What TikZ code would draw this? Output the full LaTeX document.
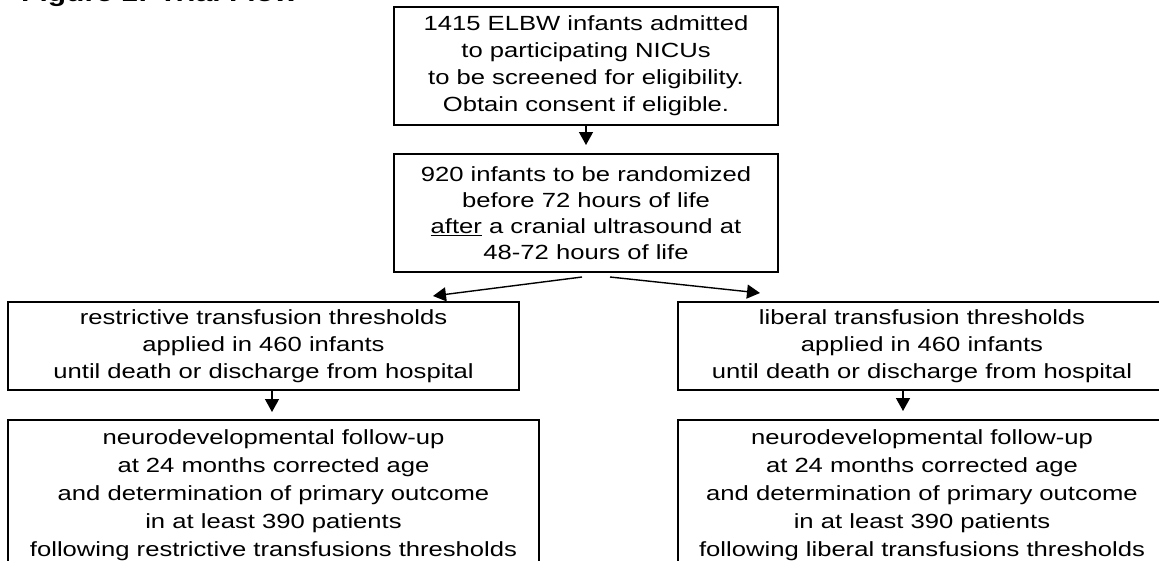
\documentclass[tikz,border=0pt]{standalone}
\usepackage{fontspec}
\setmainfont{Liberation Sans}[FakeStretch=1.25]
\usetikzlibrary{arrows.meta}
\begin{document}
\begin{tikzpicture}[
  box/.style={draw=black, line width=2pt, inner sep=0pt, align=center, text=black,
              font=\fontsize{20.5}{27}\selectfont},
  arr/.style={line width=1.4pt, -{Triangle[width=14pt,length=13pt]}},
]
\useasboundingbox (0,0) rectangle (1159pt,-560pt);
\clip (0,0) rectangle (1159pt,-560pt);
\node[anchor=base west, inner sep=0pt, font=\fontsize{24}{28}\bfseries\selectfont] (title) at (21pt,-1pt) {Figure 1: Trial Flow};
\node[box, minimum width=384pt, minimum height=118pt] (top) at (586pt,-66pt)
  {1415 ELBW infants admitted\\to participating NICUs\\to be screened for eligibility.\\Obtain consent if eligible.};
\node[box, minimum width=384pt, minimum height=118pt, font=\fontsize{20.5}{26}\selectfont] (second) at (586pt,-213pt)
  {920 infants to be randomized\\before 72 hours of life\\\underline{after} a cranial ultrasound at\\48-72 hours of life};
\node[box, minimum width=511pt, minimum height=88pt] (L1) at (263.5pt,-346pt)
  {restrictive transfusion thresholds\\applied in 460 infants\\until death or discharge from hospital};
\node[box, minimum width=488pt, minimum height=88pt] (R1) at (922pt,-346pt)
  {liberal transfusion thresholds\\applied in 460 infants\\until death or discharge from hospital};
\node[box, minimum width=531pt, minimum height=150pt, font=\fontsize{20.5}{28}\selectfont] (L2) at (273.5pt,-495pt)
  {neurodevelopmental follow-up\\at 24 months corrected age\\and determination of primary outcome\\in at least 390 patients\\following restrictive transfusions thresholds};
\node[box, minimum width=488pt, minimum height=150pt, font=\fontsize{20.5}{28}\selectfont] (R2) at (922pt,-495pt)
  {neurodevelopmental follow-up\\at 24 months corrected age\\and determination of primary outcome\\in at least 390 patients\\following liberal transfusions thresholds};
\coordinate (sL) at ([shift={(-4pt,-4pt)}]second.south);
\coordinate (eL) at ([shift={(169.5pt,5pt)}]L1.north);
\coordinate (sR) at ([shift={(24pt,-4pt)}]second.south);
\coordinate (eR) at ([shift={(-162pt,8pt)}]R1.north);
\draw[arr] (top.south) -- ([yshift=8pt]second.north);
\draw[arr] (sL) -- (eL);
\draw[arr] (sR) -- (eR);
\draw[arr] ([xshift=8.5pt]L1.south) -- ([xshift=-1.5pt,yshift=7pt]L2.north);
\draw[arr] ([xshift=-19pt]R1.south) -- ([xshift=-19pt,yshift=8pt]R2.north);
\end{tikzpicture}
\end{document}
